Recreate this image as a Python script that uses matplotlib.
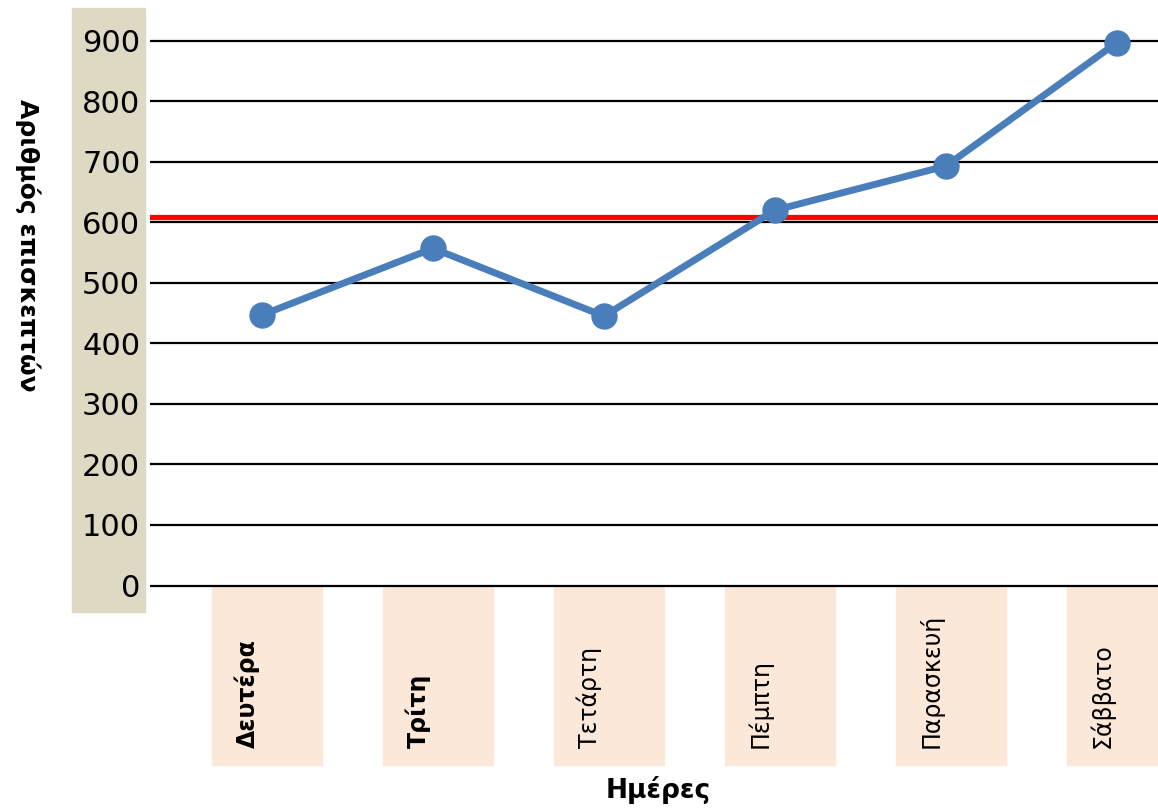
import matplotlib
matplotlib.use('Agg')
import matplotlib.pyplot as plt
from matplotlib.patches import Rectangle
from matplotlib.transforms import blended_transform_factory, offset_copy

# data
days = ['Δευτέρα', 'Τρίτη', 'Τετάρτη', 'Πέμπτη', 'Παρασκευή', 'Σάββατο']
visitors = [447, 557, 445, 620, 693, 897]
bold_days = ['Δευτέρα', 'Τρίτη']
mean_line = 608
y_ticks = [0, 100, 200, 300, 400, 500, 600, 700, 800, 900]

W, H = 1158, 809
fig = plt.figure(figsize=(W / 100, H / 100), dpi=100)
plt.rcParams['font.family'] = ['DejaVu Sans']

# axes placed in pixels: left 150, right 1158, top 8, bottom 612
ax = fig.add_axes([150 / W, 1 - 612 / H, 1008 / W, 604 / H])
ax.patch.set_alpha(0)
px_per_unit = (585.5 - 40.7) / 900
ax.set_ylim(-(612 - 585.5) / px_per_unit, 900 + (40.7 - 8) / px_per_unit)
ax.set_xlim(-0.655, 5.24)

# beige band behind the y tick labels
fig.patches.append(Rectangle((72 / W, 1 - 612 / H), 73 / W, 604 / H,
                             transform=fig.transFigure, color='#DDD9C3', zorder=-5))

for y in y_ticks:
    ax.axhline(y, color='black', lw=1.6, zorder=1)
ax.axhline(mean_line, color='#FF0000', lw=3.8, zorder=2)

x = list(range(len(days)))
ax.plot(x, visitors, color='#4A7EBB', lw=5, marker='o', markersize=18, zorder=3)

for s in ax.spines.values():
    s.set_visible(False)
ax.set_xticks([])
ax.set_yticks(y_ticks)
ax.set_yticklabels([str(v) for v in y_ticks], fontsize=22)
ax.tick_params(axis='y', length=0, pad=7)

# pink boxes and rotated day labels under the axis
trans = blended_transform_factory(ax.transData, fig.transFigure)
box_w = 110 / 171
for i, d in enumerate(days):
    ax.add_patch(Rectangle((x[i] + 0.03 - box_w / 2, 1 - 765 / H), box_w, 178 / H,
                           transform=trans, color='#FCE8D9', clip_on=False, zorder=0))
    t = offset_copy(trans, fig=fig, x=-15, y=0, units='dots')
    ax.text(x[i], 1 - 748 / H, d, transform=t, rotation=90, ha='center', va='bottom',
            fontsize=17, fontweight='bold' if d in bold_days else 'normal')

fig.text(28 / W, 1 - 245 / H, 'Αριθμός επισκεπτών', rotation=-90, ha='center', va='center',
         fontsize=18, fontweight='bold')
fig.text(658 / W, 1 - 790 / H, 'Ημέρες', ha='center', va='center', fontsize=19, fontweight='bold')

fig.savefig('out.png', dpi=100)
